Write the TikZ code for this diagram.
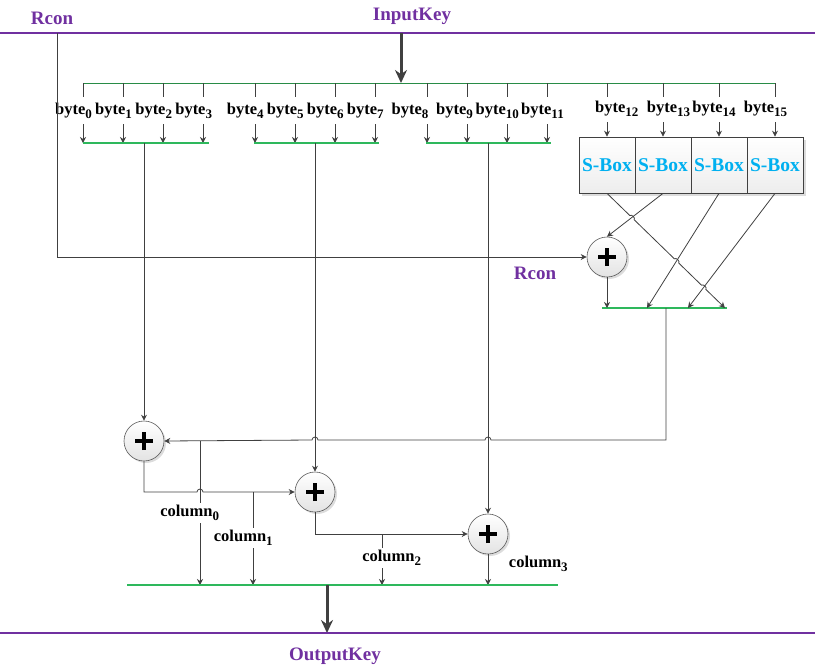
\documentclass[tikz,border=0pt]{standalone}
\usepackage{fontspec}
\setmainfont{Liberation Serif}
\usetikzlibrary{arrows.meta,shadows,calc}
\definecolor{kpurple}{RGB}{112,48,160}
\definecolor{kline}{RGB}{64,64,64}
\definecolor{kgreen}{RGB}{46,184,92}
\definecolor{kbus}{RGB}{40,140,70}
\definecolor{kcyan}{RGB}{0,176,240}
\newcommand{\sbs}[2]{#1\raisebox{-4pt}{\fontsize{13}{13}\selectfont #2}}
\tikzset{
  conn/.style={draw=kline, line width=0.8pt},
  arr/.style={conn, -{Stealth[length=6pt,width=6pt]}},
  bigarr/.style={draw=kline, line width=3pt, -{Stealth[length=13pt,width=12pt]}},
  gbar/.style={draw=kgreen, line width=2pt},
  pline/.style={draw=kpurple, line width=1.6pt},
  ptext/.style={text=kpurple, anchor=base, inner sep=0pt, font=\fontsize{19}{19}\selectfont\bfseries},
  lbl/.style={anchor=base, inner sep=1pt, font=\fontsize{16.5}{16.5}\selectfont\bfseries},
  clbl/.style={lbl, fill=white, inner sep=2pt},
  xor/.style={circle, minimum size=40pt, inner sep=0pt, draw=gray!70!black, line width=0.6pt,
    top color=white, bottom color=gray!22,
    drop shadow={shadow xshift=2pt, shadow yshift=-2pt, fill=gray!55},
    path picture={
      \draw[line width=3.8pt, black] ([xshift=-9pt]path picture bounding box.center) -- ([xshift=9pt]path picture bounding box.center);
      \draw[line width=3.8pt, black] ([yshift=-9pt]path picture bounding box.center) -- ([yshift=9pt]path picture bounding box.center);
    }},
  sbox/.style={rectangle, minimum width=56pt, minimum height=56pt, inner sep=0pt, draw=kline, line width=0.7pt,
    top color=white, bottom color=gray!14,
    drop shadow={shadow xshift=3pt, shadow yshift=-3pt, fill=gray!55},
    text=kcyan, font=\fontsize{19.5}{19.5}\selectfont\bfseries},
}
\begin{document}
\begin{tikzpicture}[x=1pt, y=-1pt]
\useasboundingbox (0,0) rectangle (815,665);

% top key line
\draw[pline] (0,33) -- (815,33);
\node[ptext] (inkey) at (412,20) {InputKey};
\node[ptext] (rcon) at (52,24) {Rcon};
\coordinate (ik) at (401,33);
\coordinate (bus) at (401,83);
\coordinate (busL) at (83,83);
\coordinate (busR) at (776,83);
\draw[draw=kbus, line width=0.9pt] (busL) -- (busR);
\draw[bigarr] (ik) -- (bus);

% taps and arrows, groups 0-2
\foreach \x in {83,123,163,203,255,295,335,375,427,467,507,547}{
  \draw[conn] (\x,83) -- (\x,97);
  \draw[arr] (\x,124) -- (\x,143);
}
% byte labels
\foreach \x/\i in {73.5/0,113.5/1,153.7/2,193.7/3,245.3/4,285.3/5,325.3/6,365.3/7,410/8,454.5/9,497.3/10,542.5/11}{
  \node[lbl] (b\i) at (\x,114) {\sbs{byte}{\i}};
}
% group bars
\draw[gbar] (83,143) -- (209,143);
\draw[gbar] (254,143) -- (379,143);
\draw[gbar] (426,143) -- (551,143);
\coordinate (g0) at (144,143);
\coordinate (g1) at (315,143);
\coordinate (g2) at (488,143);

% S-boxes
\node[sbox] (s0) at (607,165) {S-Box};
\node[sbox] (s1) at (663,165) {S-Box};
\node[sbox] (s2) at (719,165) {S-Box};
\node[sbox] (s3) at (775,165) {S-Box};
\foreach \x/\s in {607/s0,663/s1,719/s2,775/s3}{
  \draw[conn] (\x,83) -- (\x,97);
  \draw[arr] (\x,122) -- (\s.north);
}
\foreach \x/\i in {616.7/12,668.5/13,714/14,765.5/15}{
  \node[lbl] (b\i) at (\x,112) {\sbs{byte}{\i}};
}

% XOR nodes
\node[xor] (x1) at (607,257) {};
\node[xor] (x0) at (144,441) {};
\node[xor] (x2) at (315,492) {};
\node[xor] (x3) at (488,534) {};

% Rcon path
\coordinate (rc) at (57,33);
\coordinate (rcb) at (57,257);
\draw[arr] (rc) -- (rcb) -- (x1.west);
\node[ptext] (rcon2) at (535,279) {Rcon};

% S-box outputs
\coordinate (r0) at (607,308);
\coordinate (r1) at (647,308);
\coordinate (r2) at (688,308);
\coordinate (r3) at (725,308);
\coordinate (rm) at (666,308);
\draw[gbar] (602,308) -- (727,308);
\coordinate (h1) at ($(s0.south)!0.2118!(r3)$);
\coordinate (h2) at ($(s0.south)!0.5895!(r3)$);
\coordinate (h3) at ($(s0.south)!0.8195!(r3)$);
\draw[arr] (s0.south) -- ($(h1)!-3pt!(r3)$) to[bend left=90] ($(h1)!3pt!(r3)$)
  -- ($(h2)!-3pt!(r3)$) to[bend left=90] ($(h2)!3pt!(r3)$)
  -- ($(h3)!-3pt!(r3)$) to[bend left=90] ($(h3)!3pt!(r3)$) -- (r3);
\draw[arr] (s1.south) -- (x1.north);
\draw[arr] (s2.south) -- (r1);
\draw[arr] (s3.south) -- (r2);
\draw[arr] (x1.south) -- (r0);

% feedback to XOR0
\draw[arr] (rm) -- (666,440) -- (491,440) arc[start angle=0, end angle=-180, radius=3]
  -- (318,440) arc[start angle=0, end angle=-180, radius=3] -- (x0.east);

% group verticals
\draw[arr] (g0) -- (x0.north);
\draw[arr] (g1) -- (x2.north);
\draw[arr] (g2) -- (x3.north);

% chain
\draw[arr] (x0.south) -- (144,492) -- (197,492) arc[start angle=180, end angle=360, radius=3] -- (x2.west);
\draw[arr] (x2.south) -- (315,534) -- (x3.west);

% bottom bar
\coordinate (c0) at (200,585);
\coordinate (c1) at (253,585);
\coordinate (c2) at (382,585);
\coordinate (c3) at (488,585);
\draw[arr] (200,441) -- (c0);
\draw[arr] (253,492) -- (c1);
\draw[arr] (382,534) -- (c2);
\draw[arr] (x3.south) -- (c3);
\draw[gbar] (127,585) -- (558,585);
\node[clbl] (col0) at (189.7,516.7) {\sbs{column}{0}};
\node[clbl] (col1) at (243.3,541.7) {\sbs{column}{1}};
\node[clbl] (col2) at (391.7,561.7) {\sbs{column}{2}};
\node[lbl] (col3) at (538.3,567.3) {\sbs{column}{3}};

\coordinate (ok1) at (327,585);
\coordinate (ok2) at (327,633);
\draw[bigarr] (ok1) -- (ok2);
\draw[pline] (0,633) -- (815,633);
\node[ptext] (outkey) at (335,660) {OutputKey};
\end{tikzpicture}
\end{document}
